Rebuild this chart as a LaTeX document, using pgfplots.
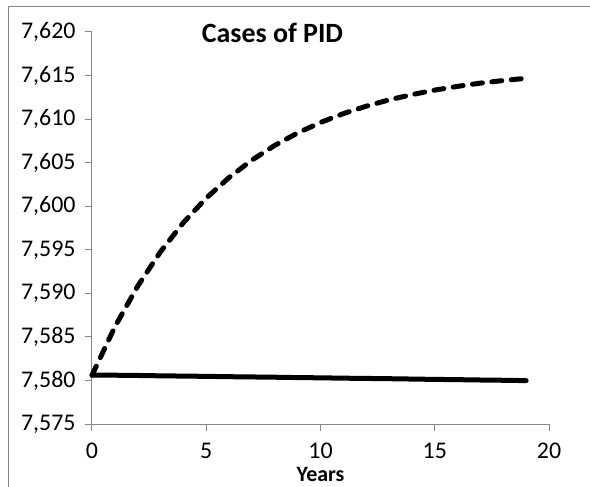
\documentclass[border=0pt]{standalone}
\usepackage{fontspec}
\setmainfont{Carlito}
\usepackage{pgfplots}
\pgfplotsset{compat=1.18}
\definecolor{axgray}{RGB}{134,134,134}
\begin{document}
\begin{tikzpicture}
\useasboundingbox (-92bp,-63bp) rectangle (498bp,424bp);
\draw[axgray, line width=1bp] (-83bp,-90bp) rectangle (520bp,417.5bp);
\begin{axis}[
    at={(0,0)}, anchor=south west,
    scale only axis,
    width=457bp, height=392bp,
    xmin=0, xmax=20, ymin=7575, ymax=7620,
    xtick={0,5,...,20},
    ytick={7575,7580,...,7620},
    axis lines*=left,
    axis line style={axgray, line width=1bp},
    tick align=outside,
    major tick length=7bp,
    tick style={axgray, line width=1bp},
    /pgf/number format/assume math mode=true,
    /pgf/number format/1000 sep={,},
    ticklabel style={font=\fontsize{24}{26}\selectfont},
    yticklabel style={xshift=-6bp},
    xticklabel style={inner sep=1bp, yshift=-11bp},
    xlabel={Years},
    xlabel style={font=\fontsize{22}{24}\selectfont\bfseries, inner sep=1bp, at={(axis description cs:0.5,0)}, anchor=center, yshift=-50.5bp},
    clip=false,
]
\addplot[black, line width=5bp, line cap=round, dash pattern=on 10bp off 9.5bp] coordinates {
(0,7580.60) (1,7586.15) (2,7590.83) (3,7594.78) (4,7598.12) (5,7600.93)
(6,7603.30) (7,7605.30) (8,7606.99) (9,7608.41) (10,7609.61) (11,7610.63)
(12,7611.48) (13,7612.21) (14,7612.81) (15,7613.33) (16,7613.76) (17,7614.13)
(18,7614.43) (19,7614.69)};
\addplot[black, line width=5bp, line cap=round] coordinates {
(0,7580.62) (1,7580.60) (2,7580.57) (3,7580.53) (4,7580.50) (5,7580.47)
(6,7580.43) (7,7580.40) (8,7580.37) (9,7580.33) (10,7580.30) (11,7580.26)
(12,7580.23) (13,7580.20) (14,7580.16) (15,7580.12) (16,7580.09) (17,7580.05)
(18,7580.02) (19,7579.98)};
\node[font=\fontsize{28}{30}\selectfont\bfseries] at (axis cs:7.9,7619.9) {Cases of PID};
\end{axis}
\end{tikzpicture}
\end{document}
